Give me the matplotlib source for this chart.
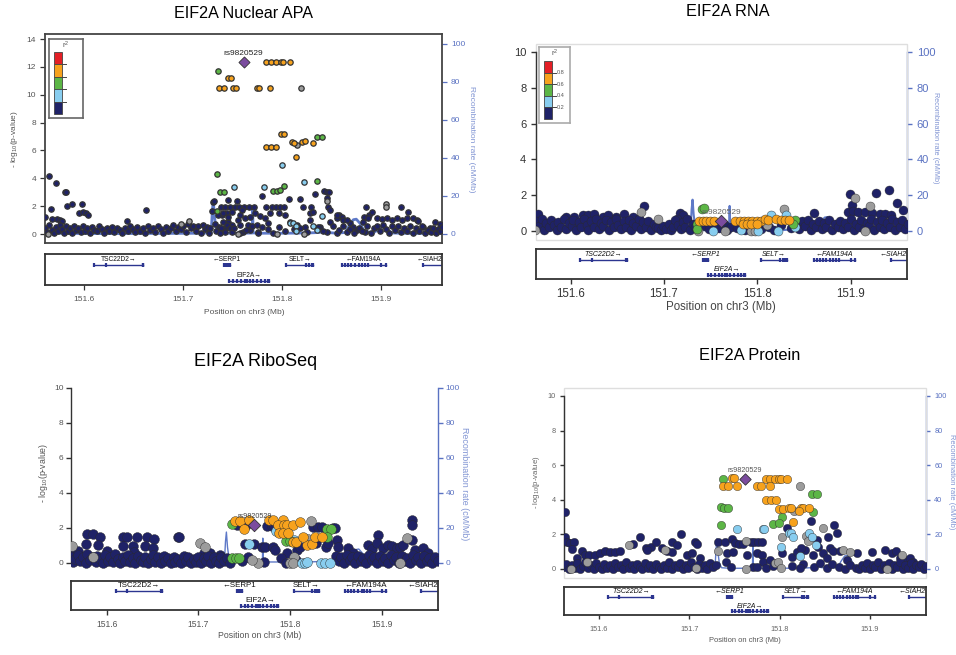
import matplotlib
matplotlib.use('Agg')
import matplotlib.pyplot as plt
from matplotlib.patches import Rectangle

plt.rcParams['font.family'] = ['Liberation Sans', 'DejaVu Sans']
plt.rcParams['mathtext.default'] = 'regular'

# ---------------- data ----------------
lead_snp = 'rs9820529'
lead_pos = 151.7612
x_ticks = [151.6, 151.7, 151.8, 151.9]
r2_breaks = ['0.8', '0.6', '0.4', '0.2']

recomb_pos = [151.5600, 151.5620, 151.5660, 151.5800, 151.6200, 151.6800, 151.7200, 151.7285, 151.7296, 151.7306,
              151.7318, 151.7332, 151.7357, 151.7450, 151.7600, 151.7699, 151.7703, 151.7708, 151.7750, 151.8000,
              151.8250, 151.8380, 151.8420, 151.8460, 151.8550, 151.8640, 151.8680, 151.8720, 151.8750, 151.8790,
              151.8830, 151.8920, 151.8980, 151.9020, 151.9060, 151.9120, 151.9300, 151.9620]
recomb_rate = [2.0, 1.5, 0.5, 0.3, 0.2, 0.3, 0.4, 0.8, 12.0, 17.5,
               9.0, 3.5, 0.7, 0.4, 0.4, 0.5, 14.0, 0.6, 0.4, 0.4,
               0.5, 0.8, 1.5, 0.8, 0.4, 0.8, 4.5, 7.5, 7.8, 5.5,
               1.5, 0.6, 2.5, 4.0, 2.0, 0.5, 0.3, 0.3]

gene_names = ['TSC22D2', 'SERP1', 'SELT', 'FAM194A', 'SIAH2', 'EIF2A']
gene_start = [151.6101, 151.7417, 151.8040, 151.8603, 151.9428, 151.7468]
gene_end = [151.6600, 151.7475, 151.8316, 151.9050, 151.9900, 151.7872]
gene_strand = ['+', '-', '+', '-', '-', '+']
gene_row = [0, 0, 0, 0, 0, 1]
gene_exons = [[151.6101, 151.6227, 151.6592, 151.6600],
              [151.7417, 151.7430, 151.7445, 151.7460, 151.7475],
              [151.8040, 151.8245, 151.8272, 151.8298, 151.8316],
              [151.8603, 151.8635, 151.8668, 151.8700, 151.8740, 151.8780, 151.8810, 151.8840, 151.8870, 151.9000, 151.9050],
              [151.9428],
              [151.7468, 151.7505, 151.7545, 151.7585, 151.7625, 151.7650, 151.7675, 151.7710, 151.7745, 151.7790,
               151.7830, 151.7855, 151.7872]]

# EIF2A Nuclear APA
apa_lead = 12.37
apa_navy_pos = [151.5646, 151.5717, 151.5808, 151.5822, 151.5667, 151.5828, 151.5876, 151.5977, 151.5953, 151.5987,
                151.6017, 151.6043, 151.5606, 151.5674, 151.5724, 151.5758, 151.5781, 151.6626, 151.6431, 151.7306,
                151.7316, 151.7451, 151.7542, 151.7381, 151.7424, 151.7475, 151.7525, 151.7569, 151.7619, 151.7670,
                151.7720, 151.7838, 151.7896, 151.7939, 151.7980, 151.8020, 151.7296, 151.7390, 151.7441, 151.7492,
                151.7593, 151.7559, 151.7458, 151.7492, 151.7424, 151.7367, 151.7323, 151.7795, 151.8074, 151.8182,
                151.8215, 151.8336, 151.8424, 151.8452, 151.8478, 151.8458, 151.8293, 151.8283, 151.8310, 151.8468,
                151.8485, 151.8579, 151.8603, 151.8559, 151.8619, 151.8687, 151.8848, 151.8832, 151.8882, 151.8906,
                151.8872, 151.9202, 151.9270, 151.8956, 151.9007, 151.9057, 151.9108, 151.9159, 151.9209, 151.9260,
                151.9327, 151.9360, 151.9370, 151.9428, 151.9495, 151.9545, 151.9596, 151.7357, 151.7407, 151.7458,
                151.7400, 151.7441, 151.7381, 151.7475, 151.7424, 151.7492, 151.7576, 151.7626, 151.7677, 151.7727,
                151.7778, 151.7828, 151.7879, 151.7576, 151.7660, 151.7744, 151.7795, 151.7862, 151.7609, 151.7677,
                151.7761, 151.7973, 151.8030, 151.8081, 151.8148, 151.8232, 151.8283, 151.8384, 151.8485, 151.8552,
                151.8653, 151.8720, 151.8821, 151.8451, 151.8552, 151.8653, 151.8754, 151.8838,
                151.561, 151.563, 151.565, 151.568, 151.570, 151.572, 151.574, 151.576, 151.578, 151.580,
                151.582, 151.584, 151.586, 151.588, 151.590, 151.592, 151.594, 151.597, 151.599, 151.601,
                151.603, 151.606, 151.608, 151.610, 151.613, 151.615, 151.618, 151.620, 151.623, 151.625,
                151.628, 151.630, 151.633, 151.636, 151.638, 151.641, 151.644, 151.646, 151.649, 151.652,
                151.654, 151.657, 151.660, 151.662, 151.665, 151.667, 151.670, 151.672, 151.675, 151.678,
                151.680, 151.683, 151.685, 151.688, 151.690, 151.693, 151.695, 151.698, 151.700, 151.703,
                151.705, 151.708, 151.710, 151.713, 151.715, 151.718, 151.720, 151.722, 151.724, 151.726,
                151.727,
                151.733, 151.737, 151.752, 151.758, 151.764, 151.770, 151.776, 151.786, 151.791, 151.797,
                151.803, 151.812, 151.818, 151.825, 151.836, 151.841, 151.851, 151.858, 151.862, 151.869,
                151.873, 151.878, 151.881, 151.886, 151.890, 151.893, 151.896, 151.899, 151.902, 151.905,
                151.908, 151.911, 151.914, 151.917, 151.920, 151.923, 151.926, 151.929, 151.932, 151.935,
                151.938, 151.941, 151.944, 151.947, 151.950, 151.953, 151.956, 151.958, 151.960, 151.962]
apa_navy_logp = [4.16, 3.68, 2.99, 2.99, 1.80, 2.00, 2.15, 2.15, 1.53, 1.56,
                 1.53, 1.36, 1.24, 1.08, 1.05, 1.00, 0.93, 1.75, 0.93, 2.30,
                 2.40, 2.45, 2.37, 1.96, 1.96, 1.96, 1.96, 1.96, 1.96, 1.96,
                 1.96, 1.96, 1.96, 1.96, 1.96, 1.96, 1.65, 1.36, 1.53, 1.60,
                 1.72, 1.00, 0.88, 0.65, 0.41, 0.53, 0.72, 2.73, 2.49, 2.49,
                 1.96, 2.85, 3.10, 3.05, 3.00, 2.60, 1.96, 1.48, 1.60, 1.96,
                 1.72, 1.36, 1.24, 1.12, 1.00, 0.81, 1.92, 1.24, 1.36, 1.60,
                 1.12, 1.92, 1.56, 1.12, 1.05, 1.12, 1.00, 1.12, 1.00, 1.12,
                 1.12, 1.00, 0.95, 0.53, 0.41, 0.88, 0.72, 1.36, 1.48, 1.24,
                 0.88, 0.65, 0.41, 0.41, 0.17, 0.17, 1.36, 1.12, 1.24, 1.48,
                 1.29, 1.12, 1.48, 0.65, 0.65, 0.65, 0.53, 0.77, 0.17, 0.29,
                 0.17, 1.53, 1.36, 0.88, 0.65, 0.53, 1.00, 0.53, 0.88, 1.36,
                 1.00, 0.53, 0.88, 0.17, 0.10, 0.17, 0.29, 0.17,
                 0.45, 0.15, 0.62, 0.30, 0.05, 0.50, 0.20, 0.68, 0.35, 0.10,
                 0.55, 0.25, 0.40, 0.08, 0.60, 0.30, 0.45, 0.15, 0.55, 0.25,
                 0.40, 0.10, 0.50, 0.30, 0.20, 0.55, 0.35, 0.10, 0.45, 0.25,
                 0.50, 0.15, 0.40, 0.30, 0.05, 0.45, 0.20, 0.55, 0.35, 0.15,
                 0.50, 0.25, 0.40, 0.10, 0.55, 0.30, 0.45, 0.15, 0.60, 0.35,
                 0.10, 0.50, 0.25, 0.45, 0.65, 0.20, 0.50, 0.35, 0.55, 0.15,
                 0.70, 0.40, 0.60, 0.25, 0.55, 0.10, 0.65, 0.35, 0.50, 0.05,
                 0.40,
                 0.25, 0.10, 0.40, 0.05, 0.30, 0.55, 0.10, 0.35, 0.05, 0.50,
                 0.20, 0.35, 0.45, 0.15, 0.50, 0.20, 0.60, 0.30, 0.55, 0.35,
                 0.10, 0.45, 0.25, 0.60, 0.10, 0.40, 0.55, 0.20, 0.65, 0.35,
                 0.10, 0.55, 0.30, 0.60, 0.15, 0.45, 0.25, 0.60, 0.10, 0.40,
                 0.20, 0.55, 0.10, 0.30, 0.15, 0.45, 0.05, 0.35, 0.20, 0.50]
apa_grey_pos = [151.7061, 151.7552, 151.8189, 151.8148, 151.9050, 151.9050, 151.8458, 151.7946, 151.8222, 151.6980, 151.5640]
apa_grey_logp = [0.93, 0.00, 10.45, 6.40, 2.15, 1.96, 2.40, 0.00, 0.00, 0.70, 0.00]
apa_lblue_pos = [151.8000, 151.7518, 151.7821, 151.8222, 151.8081, 151.8108, 151.8138, 151.8141, 151.8310, 151.8350, 151.8400]
apa_lblue_logp = [4.93, 3.40, 3.40, 3.76, 0.77, 0.77, 0.57, 0.24, 0.57, 0.30, 1.30]
apa_green_pos = [151.7357, 151.8350, 151.8400, 151.7343, 151.7377, 151.7411, 151.7912, 151.7946, 151.7980, 151.8023, 151.8357, 151.7343]
apa_green_logp = [11.70, 7.00, 7.00, 4.28, 3.00, 3.00, 3.10, 3.10, 3.15, 3.45, 3.80, 1.65]
apa_orange_pos = [151.7835, 151.7886, 151.7936, 151.7987, 151.8006, 151.8077, 151.7458, 151.7485, 151.7367, 151.7417,
                  151.7508, 151.7532, 151.7744, 151.7771, 151.7879, 151.7986, 151.8020, 151.8101, 151.8120, 151.8205,
                  151.8232, 151.8310, 151.7835, 151.7886, 151.7942, 151.8141]
apa_orange_logp = [12.35, 12.35, 12.35, 12.35, 12.35, 12.35, 11.20, 11.20, 10.50, 10.45,
                   10.45, 10.45, 10.45, 10.45, 10.45, 7.15, 7.15, 6.60, 6.55, 6.60,
                   6.65, 6.55, 6.25, 6.25, 6.25, 5.55]

# EIF2A RNA
rna_lead = 0.56
rna_navy_pos = [151.8990, 151.9268, 151.9409, 151.9498, 151.9562, 151.8608, 151.9009, 151.8972, 151.9026, 151.9080,
                151.9150, 151.9232, 151.9310, 151.9364, 151.9436, 151.6788, 151.5647, 151.7170, 151.7206, 151.7134,
                151.5950, 151.6039, 151.6128, 151.6182, 151.6253, 151.6342, 151.6396, 151.6485, 151.6574, 151.6664,
                151.6735,
                151.561, 151.563, 151.566, 151.569, 151.571, 151.574, 151.577, 151.579, 151.582, 151.585,
                151.587, 151.590, 151.593, 151.595, 151.598, 151.601, 151.603, 151.606, 151.609, 151.611,
                151.614, 151.617, 151.619, 151.622, 151.625, 151.627, 151.630, 151.633, 151.635, 151.638,
                151.641, 151.643, 151.646, 151.649, 151.651, 151.654, 151.657, 151.659, 151.662, 151.665,
                151.667, 151.670, 151.673, 151.675, 151.678, 151.681, 151.683, 151.686, 151.689, 151.691,
                151.694, 151.697, 151.699, 151.702, 151.705, 151.707, 151.710, 151.712, 151.715, 151.718,
                151.720, 151.723, 151.725, 151.728, 151.731, 151.733, 151.744, 151.748, 151.756, 151.759,
                151.765, 151.768, 151.772, 151.778, 151.787, 151.804, 151.808, 151.812, 151.818, 151.825,
                151.836, 151.842, 151.845, 151.848, 151.851, 151.854, 151.857, 151.860, 151.863, 151.866,
                151.869, 151.871, 151.874, 151.877, 151.880, 151.883, 151.886, 151.889, 151.892, 151.894,
                151.897, 151.900, 151.903, 151.906, 151.909, 151.911, 151.914, 151.917, 151.920, 151.922,
                151.925, 151.928, 151.931, 151.933, 151.936, 151.939, 151.942, 151.944, 151.947, 151.950,
                151.953, 151.955, 151.958, 151.961]
rna_navy_logp = [2.06, 2.13, 2.28, 1.59, 1.20, 1.01, 1.48, 1.07, 1.10, 1.05,
                 1.07, 1.01, 0.97, 0.97, 0.88, 1.40, 0.93, 1.03, 0.88, 0.69,
                 0.79, 0.79, 0.88, 0.88, 0.97, 0.79, 0.88, 0.79, 0.97, 0.79,
                 0.69,
                 0.10, 0.55, 0.30, 0.65, 0.05, 0.45, 0.20, 0.60, 0.35, 0.05,
                 0.50, 0.25, 0.65, 0.10, 0.45, 0.30, 0.60, 0.05, 0.50, 0.20,
                 0.65, 0.35, 0.05, 0.55, 0.25, 0.65, 0.10, 0.45, 0.30, 0.60,
                 0.05, 0.50, 0.20, 0.65, 0.35, 0.10, 0.55, 0.25, 0.60, 0.05,
                 0.45, 0.30, 0.65, 0.10, 0.50, 0.20, 0.55, 0.05, 0.40, 0.25,
                 0.15, 0.05, 0.30, 0.10, 0.40, 0.05, 0.20, 0.60, 0.35, 0.10,
                 0.50, 0.25, 0.65, 0.05, 0.40, 0.20, 0.30, 0.10, 0.40, 0.15,
                 0.35, 0.05, 0.25, 0.15, 0.05, 0.10, 0.40, 0.20, 0.05, 0.35,
                 0.15, 0.45, 0.10, 0.55, 0.30, 0.60, 0.05, 0.40, 0.20, 0.55,
                 0.10, 0.45, 0.25, 0.60, 0.05, 0.40, 0.20, 0.55, 0.10, 0.45,
                 0.25, 0.65, 0.05, 0.40, 0.20, 0.60, 0.10, 0.45, 0.30, 0.65,
                 0.05, 0.50, 0.20, 0.60, 0.10, 0.45, 0.25, 0.65, 0.05, 0.50,
                 0.20, 0.60, 0.10, 0.40]
rna_grey_pos = [151.8287, 151.9044, 151.9205, 151.7930, 151.7973, 151.7652, 151.9150, 151.6749, 151.6931, 151.5620, 151.8100, 151.7365]
rna_grey_logp = [1.21, 1.87, 1.40, 0.00, 0.00, 0.00, 0.00, 1.08, 0.65, 0.05, 0.35, 0.00]
rna_lblue_pos = [151.8143, 151.8312, 151.7527, 151.7830, 151.8009, 151.8223, 151.8401]
rna_lblue_logp = [0.92, 0.92, 0.02, 0.07, 0.02, 0.02, 0.22]
rna_green_pos = [151.7402, 151.7427, 151.8401, 151.8383, 151.7356, 151.7349]
rna_green_logp = [1.25, 1.31, 0.60, 0.41, 0.41, 0.13]
rna_orange_pos = [151.7377, 151.7420, 151.7455, 151.7498, 151.7534, 151.7759, 151.7813, 151.7856, 151.7902, 151.7948,
                  151.7991, 151.8034, 151.7841, 151.7884, 151.7937, 151.7991, 151.8080, 151.8116, 151.8205, 151.8248,
                  151.8295, 151.8338]
rna_orange_logp = [0.58, 0.58, 0.58, 0.58, 0.58, 0.58, 0.58, 0.58, 0.58, 0.58,
                   0.58, 0.58, 0.37, 0.37, 0.37, 0.37, 0.69, 0.60, 0.69, 0.64,
                   0.60, 0.60]

# EIF2A RiboSeq
ribo_lead = 2.15
ribo_navy_pos = [151.9327, 151.9327, 151.9327, 151.8964, 151.5789, 151.5847, 151.5927, 151.6182, 151.6225, 151.6335,
                 151.6436, 151.6520, 151.6775, 151.6785, 151.5775, 151.5909, 151.6007, 151.6175, 151.6291, 151.6418,
                 151.6502, 151.6298, 151.7425, 151.7520, 151.7753, 151.7800, 151.7825, 151.8255, 151.8309, 151.8345,
                 151.8465, 151.8491, 151.8382, 151.8273, 151.8284, 151.8516, 151.8527, 151.7065, 151.7127, 151.7236,
                 151.7182, 151.7509, 151.7607, 151.7691, 151.7727, 151.7818, 151.7836, 151.7971, 151.8080, 151.8109,
                 151.8393, 151.8418, 151.8636, 151.8691, 151.8855, 151.8891, 151.8945, 151.9018, 151.9073, 151.9109,
                 151.9164, 151.9200, 151.9236, 151.9364, 151.9447, 151.9509, 151.5620, 151.5650, 151.5690,
                 151.561, 151.563, 151.566, 151.569, 151.571, 151.574, 151.577, 151.579, 151.582, 151.585,
                 151.588, 151.590, 151.593, 151.596, 151.598, 151.601, 151.604, 151.607, 151.609, 151.612,
                 151.615, 151.618, 151.620, 151.623, 151.626, 151.629, 151.631, 151.634, 151.637, 151.640,
                 151.642, 151.645, 151.648, 151.651, 151.653, 151.656, 151.659, 151.662, 151.664, 151.667,
                 151.670, 151.673, 151.675, 151.678, 151.681, 151.684, 151.686, 151.689, 151.692, 151.695,
                 151.697, 151.700, 151.703, 151.706, 151.708, 151.711, 151.714, 151.717, 151.719, 151.722,
                 151.725, 151.728, 151.731, 151.734, 151.748, 151.754, 151.772, 151.790, 151.796, 151.806,
                 151.850, 151.853, 151.856, 151.859, 151.862, 151.865, 151.868, 151.871, 151.874, 151.877,
                 151.880, 151.883, 151.886, 151.889, 151.892, 151.895, 151.898, 151.901, 151.904, 151.907,
                 151.910, 151.913, 151.916, 151.919, 151.922, 151.925, 151.928, 151.931, 151.934, 151.937,
                 151.940, 151.943, 151.946, 151.949, 151.952, 151.955, 151.958, 151.961]
ribo_navy_logp = [2.44, 2.15, 1.30, 1.58, 1.64, 1.64, 1.45, 1.45, 1.45, 1.45,
                  1.45, 1.35, 1.49, 1.49, 1.07, 1.00, 0.69, 0.97, 0.97, 0.97,
                  0.82, 0.59, 2.15, 2.15, 2.11, 2.11, 2.11, 2.06, 2.06, 2.06,
                  1.96, 1.96, 1.49, 1.30, 1.10, 1.30, 0.91, 0.57, 0.57, 0.44,
                  0.25, 1.07, 1.07, 0.88, 0.88, 0.88, 0.72, 0.53, 0.72, 0.91,
                  0.91, 1.10, 0.82, 0.57, 1.00, 0.76, 1.10, 0.82, 1.00, 0.95,
                  0.82, 0.91, 1.00, 0.72, 0.82, 0.53, 0.80, 0.55, 0.65,
                  0.35, 0.05, 0.20, 0.45, 0.10, 0.30, 0.00, 0.50, 0.15, 0.35,
                  0.05, 0.40, 0.20, 0.00, 0.45, 0.10, 0.30, 0.05, 0.50, 0.20,
                  0.00, 0.35, 0.10, 0.45, 0.05, 0.25, 0.00, 0.40, 0.15, 0.05,
                  0.35, 0.00, 0.20, 0.45, 0.05, 0.30, 0.00, 0.40, 0.10, 0.25,
                  0.00, 0.35, 0.05, 0.20, 0.00, 0.40, 0.10, 0.30, 0.00, 0.20,
                  0.05, 0.35, 0.00, 0.25, 0.10, 0.40, 0.00, 0.30, 0.10, 0.00,
                  0.35, 0.10, 0.25, 0.00, 0.10, 0.30, 0.05, 0.25, 0.00, 0.15,
                  0.40, 0.10, 0.30, 0.00, 0.45, 0.15, 0.30, 0.00, 0.40, 0.10,
                  0.25, 0.00, 0.45, 0.15, 0.30, 0.00, 0.40, 0.10, 0.25, 0.00,
                  0.45, 0.15, 0.30, 0.00, 0.40, 0.10, 0.25, 0.00, 0.45, 0.15,
                  0.30, 0.00, 0.40, 0.10, 0.25, 0.00, 0.35, 0.10]
ribo_grey_pos = [151.7018, 151.7073, 151.8225, 151.9280, 151.8047, 151.7655, 151.7589, 151.8000, 151.8036, 151.9200, 151.8200, 151.5850, 151.5620]
ribo_grey_logp = [1.10, 0.88, 2.38, 1.39, 0.30, 0.00, 0.15, 0.00, 0.00, 0.00, 1.33, 0.35, 0.95]
ribo_lblue_pos = [151.7556, 151.7847, 151.8127, 151.8164, 151.8182, 151.8335, 151.8382, 151.8436, 151.8047]
ribo_lblue_logp = [1.07, 1.83, 0.00, 0.00, 0.02, 0.00, 0.00, 0.00, 1.30]
ribo_green_pos = [151.7371, 151.7953, 151.8000, 151.8400, 151.8444, 151.8400, 151.7371, 151.7407, 151.7447]
ribo_green_logp = [2.20, 1.24, 1.24, 1.92, 1.92, 1.45, 0.25, 0.25, 0.25]
ribo_orange_pos = [151.7400, 151.7455, 151.7556, 151.7775, 151.7818, 151.7920, 151.7498, 151.7873, 151.7935, 151.7971,
                   151.8029, 151.8109, 151.7884, 151.7927, 151.7982, 151.8029, 151.8065, 151.8182, 151.8236, 151.8138,
                   151.8273, 151.8349]
ribo_orange_logp = [2.38, 2.38, 2.44, 2.44, 2.44, 2.44, 1.92, 2.15, 2.15, 2.15,
                    2.15, 2.34, 1.71, 1.71, 1.71, 1.16, 1.16, 1.00, 1.07, 1.49,
                    1.49, 1.49]

# EIF2A Protein
prot_lead = 5.20
prot_navy_pos = [151.5620, 151.5627, 151.5649, 151.5679, 151.5723, 151.5697, 151.5753, 151.5808, 151.5845, 151.5893,
                 151.5956, 151.6011, 151.6066, 151.6122, 151.6177, 151.6232, 151.6380, 151.6450, 151.6517, 151.6572,
                 151.6528, 151.6635, 151.6694, 151.6749, 151.6804, 151.6860, 151.6908, 151.6804, 151.7063, 151.7089,
                 151.6970, 151.7026, 151.7118, 151.7314, 151.7395, 151.7469, 151.7506, 151.7554, 151.7598, 151.7679,
                 151.7716, 151.7764, 151.7801, 151.7413, 151.7487, 151.7635, 151.7745, 151.7801, 151.7819, 151.7893,
                 151.7406, 151.7458, 151.7708, 151.7753, 151.8077, 151.8343, 151.8605, 151.8631, 151.8539, 151.8410,
                 151.8428, 151.8557, 151.8594, 151.8280, 151.8373, 151.8483, 151.8520, 151.8668, 151.8742, 151.8852,
                 151.9018, 151.9166, 151.9240, 151.9288, 151.9332, 151.9387, 151.9443, 151.9480,
                 151.8022, 151.8133, 151.8188, 151.8236, 151.8133, 151.8258,
                 151.561, 151.564, 151.567, 151.570, 151.573, 151.576, 151.579, 151.582, 151.585, 151.588,
                 151.591, 151.594, 151.597, 151.600, 151.603, 151.606, 151.609, 151.612, 151.615, 151.618,
                 151.621, 151.624, 151.627, 151.630, 151.633, 151.636, 151.639, 151.642, 151.645, 151.648,
                 151.651, 151.654, 151.657, 151.660, 151.663, 151.666, 151.669, 151.672, 151.675, 151.678,
                 151.681, 151.684, 151.687, 151.690, 151.693, 151.696, 151.699, 151.702, 151.705, 151.708,
                 151.711, 151.714, 151.717, 151.720, 151.723, 151.726, 151.729, 151.785, 151.793, 151.822,
                 151.838, 151.845, 151.852, 151.858, 151.866, 151.872, 151.878, 151.884, 151.888, 151.891,
                 151.894, 151.897, 151.900, 151.903, 151.906, 151.909, 151.912, 151.915, 151.918, 151.921,
                 151.924, 151.927, 151.930, 151.933, 151.936, 151.939, 151.942, 151.945, 151.948, 151.951,
                 151.954, 151.957, 151.960, 151.962]
prot_navy_logp = [3.31, 1.87, 1.54, 1.48, 1.58, 1.14, 0.62, 1.06, 0.81, 0.81,
                  0.81, 0.91, 1.06, 1.00, 0.96, 1.06, 1.45, 1.83, 1.19, 1.29,
                  1.10, 1.54, 1.19, 1.06, 1.58, 1.39, 2.00, 1.00, 1.54, 1.45,
                  0.81, 0.91, 0.62, 1.54, 1.54, 1.75, 1.48, 1.45, 1.45, 1.54,
                  1.54, 1.54, 1.54, 0.91, 0.96, 0.81, 0.91, 0.81, 0.42, 0.52,
                  0.42, 0.13, 0.13, 0.13, 2.35, 2.80, 2.56, 2.06, 1.87, 1.68,
                  1.29, 1.19, 1.06, 1.10, 0.81, 0.91, 0.62, 1.06, 0.52, 0.91,
                  0.96, 1.10, 0.91, 1.06, 0.62, 0.52, 0.62, 0.42,
                  0.90, 0.70, 1.00, 1.20, 0.15, 0.30,
                  0.10, 0.30, 0.00, 0.20, 0.05, 0.35, 0.00, 0.15, 0.40, 0.05,
                  0.25, 0.00, 0.35, 0.10, 0.00, 0.30, 0.05, 0.20, 0.00, 0.35,
                  0.10, 0.25, 0.00, 0.40, 0.05, 0.20, 0.00, 0.30, 0.10, 0.00,
                  0.35, 0.05, 0.20, 0.00, 0.30, 0.10, 0.00, 0.25, 0.05, 0.40,
                  0.00, 0.20, 0.10, 0.35, 0.00, 0.25, 0.05, 0.40, 0.10, 0.00,
                  0.30, 0.05, 0.20, 0.00, 0.35, 0.10, 0.25, 0.05, 0.15, 0.05,
                  0.10, 0.35, 0.05, 0.30, 0.10, 0.00, 0.25, 0.05, 0.00, 0.20,
                  0.05, 0.35, 0.00, 0.20, 0.10, 0.40, 0.00, 0.25, 0.05, 0.35,
                  0.00, 0.20, 0.10, 0.40, 0.00, 0.25, 0.05, 0.35, 0.00, 0.20,
                  0.10, 0.30, 0.00, 0.15]
prot_grey_pos = [151.7624, 151.7948, 151.7978, 151.8015, 151.8705, 151.8779, 151.9185, 151.9350, 151.5690, 151.5867,
                 151.6731, 151.6332, 151.7074, 151.7321, 151.8476, 151.8295, 151.8026, 151.8310, 151.8220, 151.8159,
                 151.7624]
prot_grey_logp = [0.00, 0.37, 0.42, 0.04, 1.10, 1.00, 0.00, 0.81, 0.00, 0.42,
                  1.10, 1.41, 0.04, 1.06, 2.35, 1.90, 1.83, 1.62, 4.82, 3.37,
                  1.64]
prot_lblue_pos = [151.7528, 151.7812, 151.7830, 151.8100, 151.8125, 151.8151, 151.8321, 151.8358, 151.8406, 151.8015, 151.8229]
prot_lblue_logp = [2.30, 2.30, 2.30, 2.06, 2.06, 1.87, 2.06, 1.85, 1.39, 1.25, 0.73]
prot_green_pos = [151.7369, 151.8358, 151.8413, 151.7347, 151.7387, 151.7424, 151.8369, 151.8030, 151.7354, 151.7923, 151.7989]
prot_green_logp = [5.20, 4.33, 4.33, 3.58, 3.52, 3.50, 3.30, 3.00, 2.56, 2.58, 2.64]
prot_orange_pos = [151.7476, 151.7494, 151.7845, 151.7897, 151.7948, 151.7993, 151.8015, 151.8085, 151.7376, 151.7424,
                   151.7531, 151.7753, 151.7790, 151.7889, 151.7849, 151.7900, 151.7956, 151.7996, 151.8033, 151.8107,
                   151.8122, 151.8236, 151.8255, 151.8321, 151.8218, 151.8151]
prot_orange_logp = [5.28, 5.28, 5.20, 5.20, 5.20, 5.20, 5.20, 5.20, 4.82, 4.82,
                    4.82, 4.82, 4.82, 4.82, 4.00, 4.00, 4.00, 3.45, 3.45, 3.52,
                    3.52, 3.52, 3.55, 3.52, 3.35, 2.74]

# ---------------- drawing ----------------
NAVY = '#1f2267'
LBLUE = '#88cdef'
GREEN = '#5cb646'
ORANGE = '#f7a21d'
RED = '#e41f26'
GREY = '#9c9c9c'
PURPLE = '#7b4c9f'
RECOMB = '#5e79c8'
RECOMB_AX = '#5a72c2'
RECOMB_LAB = '#8094d3'
GENE = '#2c3590'

W, H = 956, 655
fig = plt.figure(figsize=(W / 100, H / 100), dpi=100)


def fx(x):
    return x / W


def fy(y):
    return 1 - y / H


def px_rect(left, top, right, bottom):
    return [left / W, 1 - bottom / H, (right - left) / W, (bottom - top) / H]


def locus_panel(main, gbox, xr, yr, rr, series, lead_y, st):
    ax = fig.add_axes(px_rect(*main))
    ax2 = ax.twinx()
    ax.set_zorder(ax2.get_zorder() + 1)
    ax.patch.set_visible(False)
    ax.set_xlim(*xr)
    ax.set_ylim(*yr)
    ax2.set_ylim(*rr)
    ax2.plot(recomb_pos, recomb_rate, color=RECOMB, lw=st['rlw'], solid_joinstyle='round')

    for xs, ys, col in series:
        ax.scatter(xs, ys, s=st['s'], c=col, edgecolors=st['ec'], linewidths=st['elw'], zorder=3)
    ax.scatter([lead_pos], [lead_y], marker='D', s=st['sd'], c=PURPLE,
               edgecolors='#333333', linewidths=0.6, zorder=5)
    ax.annotate(lead_snp, (lead_pos, lead_y), xytext=(0, 6), textcoords='offset points',
                ha='center', va='center', fontsize=st['lfs'], color=st['lcol'], zorder=6)

    ax.set_xticks([])
    ax.set_yticks(range(0, st['ymax'] + 1, 2))
    ax.tick_params(axis='y', length=st['tl'], width=st['tw'], pad=st['pad'],
                   labelsize=st['fs'], color='#333333', labelcolor=st['tc'])
    ax2.set_yticks(range(0, 101, 20))
    ax2.tick_params(axis='y', length=st['tl'], width=st['tw'], pad=st['pad'],
                    labelsize=st['fs'], color=RECOMB_AX, labelcolor=RECOMB_AX)
    for sp in ax2.spines.values():
        sp.set_visible(False)
    if st['boxed']:
        for sp in ax.spines.values():
            sp.set_color('#444444')
            sp.set_linewidth(1.3)
    else:
        for k in ('top', 'right', 'bottom'):
            ax.spines[k].set_visible(False)
        ax.spines['left'].set_bounds(0, st['ymax'])
        ax.spines['left'].set_color('#333333')
        ax.spines['left'].set_linewidth(st['tw'])
        ax2.spines['right'].set_visible(True)
        ax2.spines['right'].set_bounds(0, 100)
        ax2.spines['right'].set_color(RECOMB_AX)
        ax2.spines['right'].set_linewidth(st['tw'])
        if st['frame']:
            ax.add_patch(Rectangle((0, 0), 1, 1, transform=ax.transAxes, fill=False,
                                   ec='#dedede', lw=1.0, zorder=0, clip_on=False))

    # gene track
    gx = fig.add_axes(px_rect(*gbox))
    gx.set_xlim(*xr)
    gx.set_ylim(0, 1)
    gx.set_yticks([])
    gx.set_xticks(x_ticks)
    gx.set_xticklabels([f'{t:.1f}' for t in x_ticks])
    gx.tick_params(axis='x', length=st['tl'], width=st['tw'], pad=st['xpad'],
                   labelsize=st['xfs'], color='#333333', labelcolor=st['tc'])
    for sp in gx.spines.values():
        sp.set_color('#333333')
        sp.set_linewidth(1.3)
    for name, start, end, strand, row, exons in zip(gene_names, gene_start, gene_end,
                                                    gene_strand, gene_row, gene_exons):
        y = 0.65 if row == 0 else 0.14
        gx.plot([start, end], [y, y], color=GENE, lw=1.0)
        gx.plot(exons, [y] * len(exons), ls='none', marker='|', ms=st['ems'], mew=1.6, color=GENE)
        label = name + '\u2192' if strand == '+' else '\u2190' + name
        lx, ha = (start + end) / 2, 'center'
        if end > xr[1]:
            lx, ha = xr[1], 'right'
        gx.text(lx, y + 0.17, label, ha=ha, va='center', fontsize=st['gfs'],
                style='italic' if st['gital'] else 'normal', color='#111111')
    return ax


def r2_key(box, bar, r2_pos, nums, edge):
    kx = fig.add_axes(px_rect(*box))
    kx.set_xlim(box[0], box[2])
    kx.set_ylim(box[3], box[1])
    kx.set_xticks([])
    kx.set_yticks([])
    for sp in kx.spines.values():
        sp.set_color(edge)
        sp.set_linewidth(1.2)
    h = (bar[3] - bar[1]) / 5
    for i, c in enumerate([RED, ORANGE, GREEN, LBLUE, NAVY]):
        kx.add_patch(Rectangle((bar[0], bar[1] + i * h), bar[2] - bar[0], h,
                               fc=c, ec='#444444', lw=0.6))
    for k in range(1, 5):
        yk = bar[1] + k * h
        kx.plot([bar[2], bar[2] + 4], [yk, yk], color='#444444', lw=0.7)
        if nums:
            kx.text(bar[2] + 4.5, yk, nums[k - 1], fontsize=4, va='center', color='#555555')
    kx.text(r2_pos[0], r2_pos[1], 'r$^2$', fontsize=5.5, ha='center', va='center', color='#555555')


def series_for(navy, grey, lblue, green, orange):
    return [(navy[0], navy[1], NAVY), (grey[0], grey[1], GREY), (lblue[0], lblue[1], LBLUE),
            (green[0], green[1], GREEN), (orange[0], orange[1], ORANGE)]


ylab = '- log$_{10}$(p-value)'
rlab = 'Recombination rate (cM/Mb)'
xlab = 'Position on chr3 (Mb)'

# panel 1: Nuclear APA
st1 = dict(s=15, sd=32, ec='#333333', elw=0.9, rlw=2.0, fs=6, tc='#555555', tl=3.5, tw=0.9,
           pad=3, xfs=6, xpad=4.5, lfs=6, lcol='#222222', gfs=4.8, gital=False, boxed=True,
           frame=False, ymax=14, ems=3.5)
locus_panel((45, 34, 442, 243), (45, 254, 442, 285), (151.5606, 151.9616), (-0.646, 14.36),
            (-4.74, 105.26),
            series_for((apa_navy_pos, apa_navy_logp), (apa_grey_pos, apa_grey_logp),
                       (apa_lblue_pos, apa_lblue_logp), (apa_green_pos, apa_green_logp),
                       (apa_orange_pos, apa_orange_logp)), apa_lead, st1)
r2_key((49, 39, 83, 118), (54, 52, 62, 114), (66, 45), None, '#666666')
fig.text(fx(243.7), fy(14), 'EIF2A Nuclear APA', ha='center', va='center', fontsize=11.6)
fig.text(fx(244), fy(312), xlab, ha='center', va='center', fontsize=6, color='#555555')
fig.text(fx(15), fy(139), ylab, ha='center', va='center', rotation=90, fontsize=6, color='#555555')
fig.text(fx(471.7), fy(139.5), rlab, ha='center', va='center', rotation=270, fontsize=6, color=RECOMB_LAB)

# panel 2: RNA
st2 = dict(s=42, sd=40, ec='#2a2a2a', elw=0.3, rlw=1.5, fs=8, tc='#333333', tl=3.5, tw=1.0,
           pad=3.5, xfs=8.3, xpad=3, lfs=6, lcol='#666666', gfs=5, gital=True, boxed=False,
           frame=True, ymax=10, ems=3.5)
locus_panel((536, 44, 907, 240), (536, 249, 907, 279), (151.5629, 151.9603), (-0.503, 10.447),
            (-5.03, 104.47),
            series_for((rna_navy_pos, rna_navy_logp), (rna_grey_pos, rna_grey_logp),
                       (rna_lblue_pos, rna_lblue_logp), (rna_green_pos, rna_green_logp),
                       (rna_orange_pos, rna_orange_logp)), rna_lead, st2)
r2_key((539, 47, 570, 123), (544, 61, 552, 119), (555, 53), r2_breaks, '#aaaaaa')
fig.text(fx(727.8), fy(12), 'EIF2A RNA', ha='center', va='center', fontsize=11.7)
fig.text(fx(720.8), fy(306.7), xlab, ha='center', va='center', fontsize=8.3, color='#444444')
fig.text(fx(935), fy(138), rlab, ha='center', va='center', rotation=270, fontsize=5.2, color=RECOMB_LAB)

# panel 3: RiboSeq
st3 = dict(s=50, sd=40, ec='#2a2a2a', elw=0.3, rlw=1.0, fs=6, tc='#555555', tl=3.5, tw=1.0,
           pad=2, xfs=6.2, xpad=4, lfs=5.2, lcol='#444444', gfs=5.7, gital=False, boxed=False,
           frame=False, ymax=10, ems=3.5)
locus_panel((71, 380, 437.7, 573), (71, 580.7, 437.7, 610), (151.5611, 151.9611), (-0.59, 10.44),
            (-5.9, 104.4),
            series_for((ribo_navy_pos, ribo_navy_logp), (ribo_grey_pos, ribo_grey_logp),
                       (ribo_lblue_pos, ribo_lblue_logp), (ribo_green_pos, ribo_green_logp),
                       (ribo_orange_pos, ribo_orange_logp)), ribo_lead, st3)
fig.text(fx(255.8), fy(361.7), 'EIF2A RiboSeq', ha='center', va='center', fontsize=13)
fig.text(fx(260), fy(635), xlab, ha='center', va='center', fontsize=6.3, color='#555555')
fig.text(fx(43.3), fy(473), ylab, ha='center', va='center', rotation=90, fontsize=6.3, color='#555555')
fig.text(fx(464.3), fy(484), rlab, ha='center', va='center', rotation=270, fontsize=6.4, color=RECOMB_LAB)

# panel 4: Protein
st4 = dict(s=36, sd=34, ec='#2a2a2a', elw=0.3, rlw=1.0, fs=5.3, tc='#666666', tl=3, tw=1.0,
           pad=3, xfs=5.3, xpad=5, lfs=5.2, lcol='#555555', gfs=5, gital=True, boxed=False,
           frame=True, ymax=10, ems=3.2)
locus_panel((564.3, 388, 926, 578.3), (564.3, 586.7, 926, 615), (151.5616, 151.962), (-0.54, 10.46),
            (-5.4, 104.6),
            series_for((prot_navy_pos, prot_navy_logp), (prot_grey_pos, prot_grey_logp),
                       (prot_lblue_pos, prot_lblue_logp), (prot_green_pos, prot_green_logp),
                       (prot_orange_pos, prot_orange_logp)), prot_lead, st4)
fig.text(fx(749.8), fy(355), 'EIF2A Protein', ha='center', va='center', fontsize=11.8)
fig.text(fx(745.3), fy(640.7), xlab, ha='center', va='center', fontsize=5.4, color='#555555')
fig.text(fx(536.7), fy(482.5), ylab, ha='center', va='center', rotation=90, fontsize=5.6, color='#666666')
fig.text(fx(951), fy(482), rlab, ha='center', va='center', rotation=270, fontsize=5.4, color=RECOMB_LAB)

fig.savefig('out.png', dpi=100)
